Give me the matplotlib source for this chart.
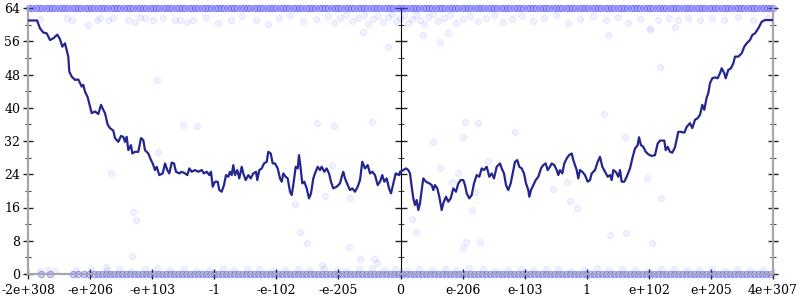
"""Bit-pattern sweep: tracked value vs. float position, with sample cloud."""
import matplotlib
matplotlib.use("Agg")
import matplotlib.pyplot as plt

# x: position along the float bit-pattern axis (0 .. 745), y: value (0 .. 64)
LINE_X = [0, 9, 12, 15.3, 18.7, 22, 25.3, 29.3, 32, 34.3, 37, 38.7, 40.3, 41.3, 43.7,
          47, 50.3, 53.7, 55.3, 57, 59.7, 62, 63.7, 67, 70.3, 73, 75.3, 77, 79.7, 82,
          85.3, 87, 90.3, 93, 95.3, 97, 98.7, 100.3, 103, 104.3, 107, 110.3, 113, 115.3,
          117, 120.3, 123, 124.7, 127, 128.7, 131.3, 134.7, 137, 139.3, 141.3, 143.7, 146,
          148, 151.3, 153.7, 157, 159.3, 161.3, 163.7, 167, 170.3, 173.7, 176, 178.7, 181.3,
          183, 184.7, 187, 189.7, 191.3, 193.7, 196, 198, 200.3, 202, 203.7, 205.3, 207,
          209.3, 211.3, 213.7, 215.3, 217.7, 220.3, 222.7, 225.3, 228, 229.3, 231.3, 233.7,
          236, 238.7, 240.3, 242.7, 244.7, 247, 249.7, 252, 253.7, 255.3, 257.7, 259.7, 262,
          263.7, 265.3, 267.7, 269.7, 271, 272.3, 274.3, 276.3, 278.7, 281, 283, 285.3, 287,
          289.7, 292, 293.7, 296.3, 298.7, 301, 303, 305.3, 308.7, 312, 313.7, 315.3, 317,
          319.7, 322, 324.3, 327, 329.7, 332, 334.3, 337, 339.7, 342, 344.3, 347, 349.7, 352,
          354.3, 356.3, 358.7, 361, 363, 365.3, 367.7, 371, 372,
          375.3, 378, 380.3, 382, 383.7, 385.3, 387, 388.7, 390.3, 392, 393.7, 395.3, 398,
          401.3, 403.7, 405.3, 407, 409.3, 411.3, 413.7, 415.3, 418, 420.3, 422.7, 425.3, 428,
          430.3, 432.7, 435.3, 437, 438.7, 441.3, 443.7, 446, 448.7, 451.3, 453.7, 456, 458.7,
          461.3, 463.7, 466, 468.7, 472, 473.7, 476, 478, 480.3, 482.7, 485.3, 487, 489.3,
          491.3, 493.7, 496, 498, 500.3, 501.3, 503, 505.3, 507.7, 510.3, 513, 515.3, 517.7,
          519.7, 522, 523.7, 526.3, 528.7, 530.3, 532, 534.3, 536.3, 538.7, 541, 543.7, 545.3,
          547, 548.7, 550.3, 552, 554.3, 557, 559.7, 562, 563.7, 567, 569.7, 572, 574.3, 577,
          579.7, 582, 583.7, 585.3, 587.7, 590.3, 592, 593.7, 596.3, 598.7, 602, 604.3, 607,
          609.7, 611, 613, 615.3, 617.7, 620.3, 623.7, 627, 629.7, 632, 636.3, 637.7, 639.7,
          642, 644.3, 647, 650.3, 653, 656.3, 658.7, 662, 664.3, 667, 669.7, 672, 674.3, 676.3,
          678.7, 680.3, 682, 684.3, 687, 689.7, 692, 693.7, 696.3, 697.7, 700.3, 703, 705.3,
          707, 710.3, 713.7, 716.3, 718.7, 722, 724.3, 727, 730.3, 733.7, 737, 745]
LINE_Y = [61, 61, 59.1, 58.1, 57.9, 56.3, 56.7, 57.6, 56.5, 54.7, 55.5, 53.9, 52.3, 48.7, 47.5,
          46.7, 46.8, 45.1, 45.5, 43.9, 42.5, 40.3, 38.7, 39.1, 38.5, 40.7, 39.5, 38.7, 35.9, 35.1,
          34.5, 32.7, 31.8, 33.2, 33.0, 31.8, 33.0, 29.8, 31.0, 29.0, 29.4, 29.4, 32.7, 32.2,
          29.8, 29.0, 27.4, 26.6, 25.0, 25.8, 23.8, 24.2, 26.6, 25.0, 24.2, 26.8, 26.6,
          24.6, 24.2, 24.6, 24.2, 23.8, 25.4, 24.6, 25.0, 24.6, 25.0, 24.2, 24.6, 23.8,
          24.6, 21.0, 22.2, 22.2, 20.2, 19.8, 21.4, 23.8, 23.4, 24.6, 23.8, 26.2, 23.8,
          25.0, 23.0, 25.8, 24.2, 22.6, 23.8, 23.0, 24.2, 24.6, 22.6, 25.0, 25.4,
          26.6, 27.0, 29.4, 29.0, 26.6, 26.6, 25.4, 23.0, 22.2, 24.2, 23.4, 23.0, 19.8,
          19.0, 21.4, 25.8, 25.4, 28.6, 26.2, 21.8, 22.2, 20.6, 18.2, 19.4, 23.0, 24.2,
          25.8, 25.0, 25.8, 24.6, 25.4, 24.2, 22.2, 20.6, 21.0, 21.8, 23.4, 24.6, 23.0,
          21.4, 20.2, 20.6, 19.8, 21.0, 22.6, 27.0, 25.4, 26.2, 24.2, 24.6, 23.8, 21.4, 22.2,
          23.8, 22.2, 23.0, 20.6, 19.4, 21.8, 24.2, 23.8, 24.6,
          25.0, 25.4, 25.0, 24.2, 21.0, 18.2, 16.6, 17.8, 15.4, 17.0, 20.2, 23.0, 22.2,
          21.8, 21.4, 20.2, 21.4, 20.6, 18.6, 15.4, 17.0, 18.6, 17.4, 18.2, 20.6, 19.8,
          21.8, 22.6, 22.6, 21.4, 19.4, 18.2, 19.0, 21.8, 23.8, 23.4, 25.4, 25.0, 25.8,
          23.4, 24.2, 23.0, 25.8, 26.6, 25.4, 24.2, 21.4, 20.2, 21.8, 25.0, 27.0, 27.4,
          25.8, 25.4, 24.2, 21.8, 20.2, 18.6, 20.2, 21.4, 22.6, 23.4, 25.4, 26.2, 26.6,
          25.0, 25.8, 26.6, 26.2, 25.0, 23.8, 25.0, 24.2, 26.6, 27.8, 28.6, 29.0, 27.4,
          26.2, 25.0, 23.0, 25.0, 24.6, 23.8, 22.2, 22.6, 24.2, 25.0, 27.0, 28.2, 25.8, 24.6,
          23.4, 23.8, 22.6, 25.0, 24.6, 23.4, 25.0, 22.2, 22.2, 23.4, 25.4, 27.8, 30.2,
          31.0, 32.9, 31.0, 30.6, 29.4, 28.8, 28.4, 28.6, 31.4, 32.1, 32.1, 29.8, 30.6,
          29.4, 29.2, 30.5, 34.2, 34.2, 34.0, 35.4, 36.3, 35.1, 37.1, 37.5, 38.3, 40.7, 39.5,
          42.5, 43.5, 45.9, 47.1, 47.3, 47.1, 48.3, 49.5, 48.3, 47.1, 49.1, 49.5, 50.7,
          52.3, 52.3, 53.1, 54.7, 55.5, 56.3, 57.5, 57.9, 59.1, 60.7, 61.1, 61.1]

# dense band of samples sitting at the ceiling (64)
TOP_BAND_X = [1, 4, 8, 11, 14, 18, 21, 24, 27, 31, 34, 37, 40, 44, 47, 50, 53, 57, 60, 63,
              66, 70, 73, 76, 79, 83, 86, 89, 92, 96, 99, 102, 105, 109, 112, 115, 118, 122,
              125, 128, 131, 135, 138, 141, 144, 148, 151, 154, 157, 161, 164, 167, 170, 174,
              177, 180, 183, 187, 190, 193, 196, 200, 203, 206, 209, 213, 216, 219, 222, 226,
              229, 232, 235, 239, 242, 245, 248, 252, 255, 258, 261, 265, 268, 271, 274, 278,
              281, 284, 287, 291, 294, 297, 300, 304, 307, 310, 313, 317, 320, 323, 326, 330,
              333, 336, 339, 343, 346, 349, 352, 356, 359, 362, 365, 369, 372, 375, 378, 382,
              385, 388, 391, 395, 398, 401, 404, 408, 411, 414, 417, 421, 424, 427, 430, 434,
              437, 440, 443, 447, 450, 453, 456, 460, 463, 466, 469, 473, 476, 479, 482, 486,
              489, 492, 495, 499, 502, 505, 508, 512, 515, 518, 521, 525, 528, 531, 534, 538,
              541, 544, 547, 551, 554, 557, 560, 564, 567, 570, 573, 577, 580, 583, 586, 590,
              593, 596, 599, 603, 606, 609, 612, 616, 619, 622, 625, 629, 632, 635, 638, 642,
              645, 648, 651, 655, 658, 661, 664, 668, 671, 674, 677, 681, 684, 687, 690, 694,
              697, 700, 703, 707, 710, 713, 716, 720, 723, 726, 729, 733, 736, 739, 742, 745]
TOP_LEVEL = 64.0

# dense band of samples at the floor (0)
BOTTOM_BAND_X = [13, 22, 45, 50, 56, 61, 66, 70, 74, 78, 82, 86, 90, 94, 98, 102, 106, 110,
                 114, 118, 122, 126, 130, 134, 138, 142, 146, 150, 154, 158, 162, 166, 170,
                 174, 178, 182, 186, 190, 194, 198, 202, 206, 210, 214, 218, 222, 226, 230,
                 234, 238, 242, 246, 250, 254, 258, 262, 266, 270, 274, 278, 282, 286, 290,
                 294, 298, 302, 306, 310, 314, 318, 322, 326, 330, 334, 338, 342, 346, 350,
                 354, 358, 362, 366, 370, 374, 378, 382, 386, 390, 394, 398, 402, 406, 410,
                 414, 418, 422, 426, 430, 434, 438, 442, 446, 450, 454, 458, 462, 466, 470,
                 474, 478, 482, 486, 490, 494, 498, 502, 506, 510, 514, 518, 522, 526, 530,
                 534, 538, 542, 546, 550, 554, 558, 562, 566, 570, 574, 578, 582, 586, 590,
                 594, 598, 602, 606, 610, 614, 618, 622, 626, 630, 634, 638, 642, 646, 650,
                 654, 658, 662, 666, 670, 674, 678, 682, 686, 690, 694, 698, 702, 706, 710,
                 714, 718, 722, 726, 730, 734, 738, 742]
BOTTOM_LEVEL = 0.0

# light cloud just above the floor
LOW_CLOUD_X = [12, 20, 27, 48, 63, 79, 91, 103, 117, 129, 142, 156, 168, 181, 195, 206, 219,
               231, 244, 257, 270, 281, 296, 309, 318, 331, 344, 356, 367, 379, 391, 404, 417,
               428, 441, 455, 467, 480, 493, 505, 518, 530, 543, 556, 569, 581, 594, 607, 620,
               633, 646, 659, 671, 684, 697, 709, 722, 735]
LOW_CLOUD_Y = [0.8, 0.9, 0.8, 1.0, 1.2, 0.9, 1.3, 0.8, 1.1, 1.4, 0.9, 1.2, 0.8, 1.0, 1.5,
               0.9, 1.1, 1.3, 0.8, 1.0, 1.2, 0.9, 1.4, 1.0, 0.8, 1.2, 1.5, 0.9, 1.1, 0.8,
               1.3, 1.0, 1.2, 0.9, 1.4, 1.1, 0.8, 1.0, 1.3, 0.9, 1.1, 1.2, 0.8, 1.0, 1.4,
               0.9, 1.2, 1.0, 0.8, 1.3, 1.1, 0.9, 1.0, 1.2, 0.8, 1.1, 0.9, 1.0]

# cloud just under the ceiling
HIGH_CLOUD_X = [12, 39, 44, 60, 69, 72, 80, 85, 100, 107, 112, 117, 125, 135, 147, 152, 159,
                165, 178, 190, 203, 214, 228, 240, 251, 262, 275, 288, 300, 306, 312, 318,
                324, 330, 336, 340, 345, 350, 355, 360, 364, 368, 372, 376, 380, 384, 388,
                392, 396, 400, 405, 410, 416, 422, 428, 435, 442, 450, 458, 466, 475, 484,
                494, 505, 516, 528, 540, 552, 565, 578, 590, 600, 612, 622, 630, 641, 650,
                660, 672, 684, 696, 710, 725, 740]
HIGH_CLOUD_Y = [61.3, 61.5, 61.2, 59.9, 61.0, 61.6, 61.0, 61.6, 61.2, 60.6, 61.8, 61.5, 61.0,
                61.6, 61.0, 61.2, 60.6, 61.0, 61.8, 60.4, 61.2, 62.0, 61.0, 60.2, 61.5, 62.2,
                60.8, 61.4, 62.0, 60.5, 61.7, 62.3, 60.9, 61.6, 62.4, 60.2, 61.3, 62.0, 60.7,
                61.8, 62.5, 60.9, 61.5, 62.2, 60.5, 61.4, 62.3, 61.0, 60.1, 61.9, 62.5, 60.8,
                61.6, 62.2, 60.4, 61.3, 62.0, 60.9, 61.7, 62.3, 60.6, 61.4, 62.1, 60.8, 61.5,
                62.2, 60.5, 61.3, 62.0, 61.0, 61.8, 60.4, 61.4, 59.3, 61.0, 61.5, 61.0, 61.7,
                61.2, 61.6, 61.0, 61.8, 61.2, 61.5]

# scattered samples in between
MID_X = [128.7, 154.7, 169.3, 130.3, 289.3, 306, 343.7, 303.7, 297, 322, 267, 437, 450, 487,
         435, 405, 460, 412, 430, 423.7, 447, 443.7, 383.7, 576.3, 597, 538.7, 525.3, 618.7,
         542, 548.7, 632, 622, 647, 633, 104.7, 108, 103.7, 78, 388, 278.7, 321.3, 332, 346,
         348.7, 293.7, 438, 452, 435.3, 582, 598, 623.7, 580, 83, 272, 360, 412, 420, 395, 335]
MID_Y = [46.7, 35.9, 35.6, 29.4, 36.4, 35.7, 36.6, 26.2, 18.8, 18.4, 16.8, 36.6, 36.3, 34.2,
         33.0, 31.8, 27.3, 25.4, 24.2, 22.2, 19.8, 15.4, 13.2, 38.5, 32.9, 22.2, 20.4, 23.0,
         17.6, 15.8, 49.8, 58.7, 59.5, 18.4, 15.0, 13.0, 4.3, 1.8, 10.2, 7.4, 6.6, 3.5, 3.5,
         2.7, 2.2, 7.8, 7.8, 6.2, 9.4, 9.9, 7.5, 57.5, 24.4, 10.2, 54.7, 55.9, 58.0, 57.5, 58.2]

X_MAX = 745
TICK_LABELS = ["-2e+308", "-e+206", "-e+103", "-1", "-e-102", "-e-205", "0",
               "e-206", "e-103", "1", "e+102", "e+205", "4e+307"]
Y_MAJOR = [0, 8, 16, 24, 32, 40, 48, 56, 64]
Y_MINOR = [4, 12, 20, 28, 36, 44, 52, 60]

plt.rcParams["font.family"] = ["DejaVu Serif"]
fig = plt.figure(figsize=(8, 3), dpi=100)
ax = fig.add_axes([28 / 800, 26 / 300, 745 / 800, 266 / 300])

band_face = (0.3, 0.3, 1.0, 0.28)
band_edge = (0.2, 0.2, 0.95, 0.45)
ax.scatter(TOP_BAND_X, [TOP_LEVEL] * len(TOP_BAND_X), s=22, facecolor=band_face,
           edgecolor=band_edge, linewidth=0.6, clip_on=False, zorder=2)
ax.scatter(BOTTOM_BAND_X, [BOTTOM_LEVEL] * len(BOTTOM_BAND_X), s=22, facecolor=band_face,
           edgecolor=band_edge, linewidth=0.6, clip_on=False, zorder=2)

pt_face = (0.3, 0.3, 1.0, 0.07)
pt_edge = (0.3, 0.3, 1.0, 0.14)
for xs, ys in [(LOW_CLOUD_X, LOW_CLOUD_Y), (HIGH_CLOUD_X, HIGH_CLOUD_Y), (MID_X, MID_Y)]:
    ax.scatter(xs, ys, s=18, facecolor=pt_face, edgecolor=pt_edge, linewidth=0.6,
               clip_on=False, zorder=2)

ax.plot(LINE_X, LINE_Y, color="#25258f", lw=1.6, zorder=4)

ax.set_xlim(0, X_MAX)
ax.set_ylim(0, 64)
ax.set_xticks([X_MAX * i / 12 for i in range(13)])
ax.set_xticklabels(TICK_LABELS)
ax.set_yticks(Y_MAJOR)
ax.set_yticks(Y_MINOR, minor=True)

for side in ["left", "bottom", "right"]:
    ax.spines[side].set_color("#a8a8a8")
    ax.spines[side].set_linewidth(1.6)
ax.spines["top"].set_visible(False)
ax.tick_params(axis="both", which="major", direction="inout", length=7, width=1,
               color="#222222", labelsize=9, pad=2)
ax.tick_params(axis="y", which="minor", direction="inout", length=4, width=0.8,
               color="#444444")
ax.tick_params(axis="y", which="both", right=True)
ax.tick_params(axis="x", pad=4)

# centre axis at zero
mid = ax.secondary_yaxis(0.5)
mid.set_yticks(Y_MAJOR)
mid.set_yticks(Y_MINOR, minor=True)
mid.set_yticklabels([])
mid.spines["left"].set_color("#444444")
mid.spines["left"].set_linewidth(0.9)
mid.tick_params(which="major", direction="inout", length=8, width=1, color="#222222")
mid.tick_params(which="minor", direction="inout", length=4, width=0.8, color="#444444")

fig.savefig("out.png", dpi=100)
